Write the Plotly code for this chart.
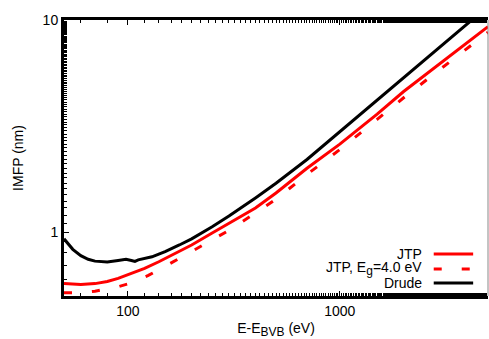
import plotly.graph_objects as go

# Data
drude_e = [50, 55, 60, 65, 70, 80, 90, 98, 104, 108, 112, 120, 130, 141, 150, 175, 200, 250, 300, 400, 500, 700, 1000, 1500, 2000, 3000, 4000, 5000]
drude_imfp = [0.93, 0.83, 0.775, 0.745, 0.73, 0.724, 0.735, 0.744, 0.735, 0.728, 0.74, 0.75, 0.765, 0.79, 0.81, 0.87, 0.93, 1.06, 1.19, 1.45, 1.7, 2.2, 2.98, 4.2, 5.37, 7.55, 9.7, 11.6]

jtp_e = [50, 55, 60, 70, 80, 90, 100, 120, 140, 170, 200, 250, 300, 400, 500, 700, 1000, 1500, 2000, 3000, 4000, 5000]
jtp_imfp = [0.573, 0.568, 0.566, 0.572, 0.585, 0.605, 0.63, 0.675, 0.725, 0.8, 0.87, 0.99, 1.1, 1.3, 1.53, 2.0, 2.6, 3.6, 4.6, 6.3, 7.9, 9.3]

jtpeg_e = [50, 60, 70, 80, 90, 100, 125, 150, 175, 200, 250, 300, 400, 500, 700, 1000, 1500, 2000, 3000, 4000, 5000]
jtpeg_imfp = [0.518, 0.518, 0.527, 0.54, 0.553, 0.57, 0.625, 0.69, 0.755, 0.81, 0.92, 1.02, 1.23, 1.43, 1.87, 2.45, 3.4, 4.3, 5.9, 7.4, 8.75]

legend_labels = ["JTP", "JTP, E<sub><span style='font-size:12px'>g</span></sub>=4.0 eV", "Drude"]
x_title = "E-E<sub><span style='font-size:12px'>BVB</span></sub> (eV)"
y_title = "IMFP (nm)"
x_tickvals = [100, 1000]
x_ticktext = ["100", "1000"]
y_tickvals = [1, 10]
y_ticktext = ["1", "10"]

FONT = "Liberation Sans, Arial, sans-serif"
FS = 14
DASH = "8px,20px"

fig = go.Figure()
fig.add_trace(go.Scatter(x=jtp_e, y=jtp_imfp, mode="lines", line=dict(color="#ff0000", width=3), name="JTP", showlegend=False))
fig.add_trace(go.Scatter(x=jtpeg_e, y=jtpeg_imfp, mode="lines", line=dict(color="#ff0000", width=3, dash=DASH), name="JTP, Eg=4.0 eV", showlegend=False))
fig.add_trace(go.Scatter(x=drude_e, y=drude_imfp, mode="lines", line=dict(color="#000000", width=3), name="Drude", showlegend=False))

# gnuplot-style legend: text on the left, line sample on the right
leg_y = [0.152, 0.098, 0.047]
leg_styles = [dict(color="#ff0000", width=3), dict(color="#ff0000", width=3, dash=DASH), dict(color="#000000", width=3)]
for lab, yy, st in zip(legend_labels, leg_y, leg_styles):
    fig.add_annotation(x=0.849, y=yy, xref="paper", yref="paper", text=lab, showarrow=False,
                       xanchor="right", yanchor="middle", font=dict(family=FONT, size=FS, color="black"))
    fig.add_shape(type="line", xref="paper", yref="paper", x0=0.872, x1=0.965, y0=yy, y1=yy, line=st)

# thin right border
fig.add_shape(type="line", xref="paper", yref="paper", x0=1, x1=1, y0=0, y1=1, line=dict(color="#888888", width=1))

fig.update_layout(
    width=489, height=339,
    margin=dict(l=64, r=1, t=20, b=43),
    paper_bgcolor="white", plot_bgcolor="white",
    font=dict(family=FONT, size=FS, color="black"),
    xaxis=dict(type="log", range=[1.69897, 3.69897], tickvals=x_tickvals, ticktext=x_ticktext,
               ticks="inside", ticklen=5, tickcolor="black", showgrid=False, zeroline=False,
               showline=True, linecolor="black", linewidth=3, mirror="allticks",
               minor=dict(ticks="inside", ticklen=3, tickcolor="black", showgrid=False),
               title=dict(text=x_title, standoff=7, font=dict(size=FS))),
    yaxis=dict(type="log", range=[-0.30103, 1.0], tickvals=y_tickvals, ticktext=y_ticktext,
               ticks="inside", ticklen=5, tickcolor="black", showgrid=False, zeroline=False,
               showline=True, linecolor="black", linewidth=3,
               minor=dict(ticks="inside", ticklen=3, tickcolor="black", showgrid=False),
               title=dict(text=y_title, standoff=16, font=dict(size=FS))),
)

fig.write_html("out.html", config={"displayModeBar": False},
               post_script="document.body.style.margin='0';document.body.style.padding='0';")
